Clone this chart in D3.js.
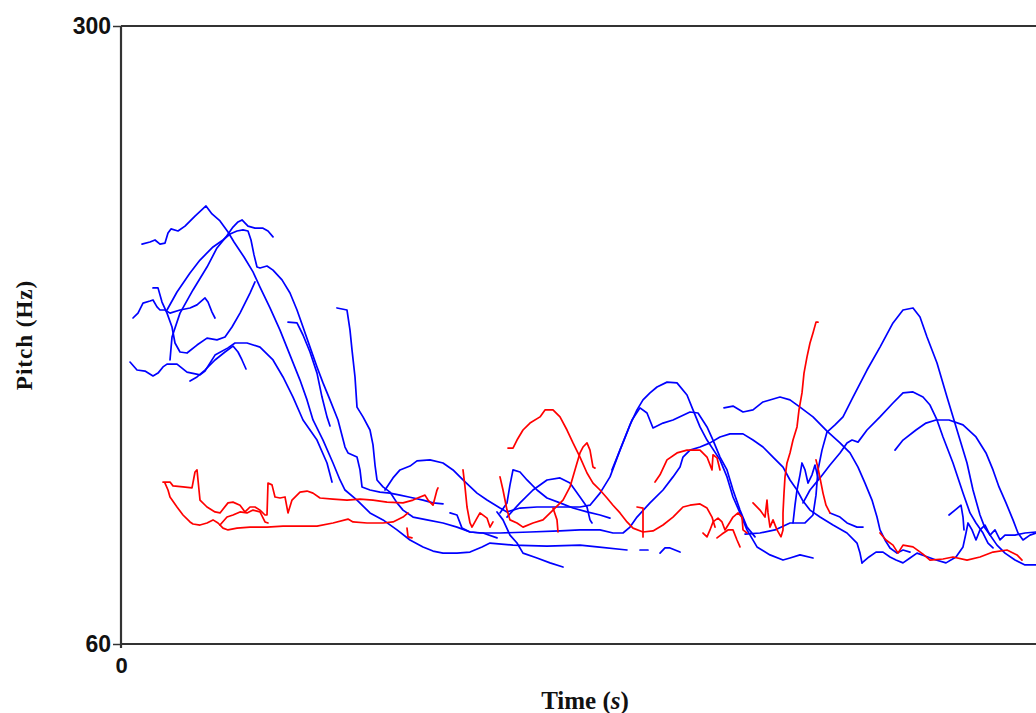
<!DOCTYPE html>
<html><head><meta charset="utf-8">
<script src="https://d3js.org/d3.v7.min.js"></script>
<style>
html,body{margin:0;padding:0;background:#fff;}
svg{display:block;}
</style></head>
<body>
<script>
// ---- axis settings (values) ----
const timeDomain = [0, 1.83];      // seconds
const pitchDomain = [60, 300];     // Hz
const pitchTicks = [60, 300];
const timeTicks = [0];

// ---- blue contours: [time (s), pitch (Hz)] ----
const blue01 = [[.042,215.3],[.058,216.1],[.068,216.9],[.078,215.3],[.088,215.7],[.094,219.6],[.100,221.2],[.114,220.4],[.128,222.3],[.148,226.2],[.170,230.1],[.182,227.0],[.198,224.3],[.214,220.0],[.226,216.1],[.246,210.3],[.264,204.5],[.278,198.6],[.298,190.5],[.318,181.9],[.338,172.2],[.358,162.5],[.372,154.8],[.384,147.0],[.404,139.2],[.424,130.3],[.438,123.7],[.448,119.8],[.472,115.9],[.498,110.9],[.524,108.2],[.552,104.3],[.578,100.4],[.604,97.7],[.624,96.1],[.644,95.3],[.672,95.3],[.698,95.7],[.722,97.7],[.738,99.2],[.784,98.4],[.852,98.0],[.918,98.4],[.952,97.7],[1.012,96.5]];
const blue02 = [[.098,170.3],[.102,179.2],[.118,188.5],[.144,197.5],[.172,206.4],[.192,213.8],[.210,218.1],[.224,221.9],[.234,223.9],[.242,224.7],[.254,222.3],[.268,221.5],[.284,221.5],[.294,220.4],[.304,218.1]];
const blue03 = [[.092,189.7],[.112,196.7],[.138,204.1],[.158,209.1],[.184,214.2],[.204,216.9],[.218,219.2],[.232,220.4],[.244,220.8],[.254,220.4],[.260,216.9],[.266,211.1],[.272,206.4],[.278,206.0],[.292,206.8],[.304,205.2],[.322,201.4],[.338,196.3],[.352,189.7],[.364,183.1],[.378,175.3],[.392,167.6],[.404,161.4],[.418,154.8],[.434,147.0],[.448,136.5],[.454,134.2],[.472,132.6],[.478,127.6],[.482,121.0],[.498,119.8],[.518,119.0],[.538,118.6],[.558,117.8],[.578,117.0],[.604,115.9],[.624,114.8],[.644,114.4]];
const blue04 = [[.024,186.6],[.034,188.5],[.044,192.4],[.058,193.2],[.064,193.6],[.072,190.9],[.078,189.7],[.088,189.7],[.098,188.5],[.118,189.7],[.138,190.5],[.152,191.7],[.168,194.4],[.174,192.8],[.182,188.9],[.188,186.6]];
const blue05 = [[.064,198.3],[.074,198.3],[.082,192.8],[.092,188.5],[.102,183.1],[.108,176.9],[.118,173.4],[.132,173.0],[.152,176.1],[.172,178.8],[.192,178.1],[.208,179.2],[.222,183.1],[.238,188.5],[.258,196.3],[.268,200.6]];
const blue06 = [[.018,169.5],[.032,166.4],[.048,166.0],[.064,164.1],[.074,165.2],[.084,167.6],[.092,168.7],[.112,168.7],[.132,165.6],[.158,164.5],[.168,166.0],[.188,172.2],[.214,175.0],[.228,176.9],[.252,176.9],[.278,175.3],[.304,170.3],[.324,163.7],[.344,155.9],[.364,147.0],[.392,139.2],[.412,130.3],[.422,122.9]];
const blue07 = [[.138,162.1],[.152,163.7],[.168,166.4],[.188,170.3],[.208,173.4],[.224,175.7],[.234,173.4],[.242,170.3],[.250,166.8]];
const blue08 = [[.334,185.0],[.352,184.7],[.364,180.0],[.378,173.4],[.392,165.2],[.402,155.9],[.412,148.2],[.418,144.7]];
const blue09 = [[.432,190.5],[.452,189.7],[.458,181.9],[.462,174.2],[.468,163.7],[.472,152.0],[.484,148.2],[.498,143.1],[.504,137.3],[.508,129.5],[.512,123.7],[.524,121.0],[.538,119.0],[.552,114.8],[.564,112.0],[.584,109.3],[.612,108.2],[.644,107.0],[.672,105.4],[.698,103.5],[.724,103.1],[.752,101.2]];
const blue10 = [[.658,110.9],[.672,110.1],[.682,105.0],[.698,103.5],[.718,103.1],[.758,103.1],[.818,103.5],[.878,103.9],[.918,104.3],[.958,104.3],[.984,103.1],[1.004,103.1],[1.018,105.4],[1.032,109.3],[1.058,114.8],[1.084,119.8],[1.104,124.9],[1.118,128.7],[1.124,132.6],[1.138,135.3],[1.158,136.5],[1.178,138.1],[1.198,140.4],[1.218,141.6],[1.244,141.6],[1.264,139.2],[1.284,136.5],[1.304,132.6],[1.324,128.7],[1.338,123.7],[1.352,119.8],[1.364,115.5],[1.378,112.0],[1.398,109.3],[1.424,106.2],[1.452,103.1],[1.472,99.2],[1.478,95.3],[1.482,91.5]];
const blue11a = [[1.038,96.5],[1.054,96.5]];
const blue11b = [[1.078,95.3],[1.088,97.3],[1.098,97.3],[1.118,95.7]];
const blue12 = [[.528,119.8],[.544,124.5],[.558,127.6],[.578,129.1],[.592,131.1],[.618,131.5],[.644,130.3],[.664,127.6],[.684,123.7],[.712,118.6],[.732,115.9],[.758,112.8],[.772,111.3],[.798,112.8],[.832,113.2],[.878,113.2],[.918,113.2],[.938,113.9],[.958,118.6],[.978,124.9],[.998,135.3],[1.018,145.1],[1.032,150.9],[1.044,154.8],[1.058,157.5],[1.072,159.8],[1.092,161.7],[1.112,161.4],[1.132,156.7],[1.144,150.9],[1.158,144.3],[1.172,139.2],[1.198,131.5],[1.212,124.9],[1.224,117.1],[1.238,110.9],[1.252,104.3],[1.272,97.7],[1.298,94.6],[1.324,92.6],[1.338,93.4],[1.358,94.6],[1.384,93.4]];
const blue13 = [[.758,110.9],[.772,114.8],[.778,121.8],[.784,127.6],[.798,126.8],[.812,123.7],[.832,119.8],[.852,116.7],[.878,114.8],[.904,112.8],[.932,111.3],[.958,110.1],[.978,108.9]];
const blue14 = [[.772,109.3],[.798,114.8],[.824,119.8],[.852,123.7],[.878,124.5],[.898,122.5],[.918,117.1],[.932,113.2],[.938,108.2],[.942,107.0]];
const blue15 = [[.982,127.6],[1.002,137.3],[1.022,147.0],[1.038,151.7],[1.052,149.7],[1.064,143.9],[1.084,145.8],[1.104,147.0],[1.138,150.1],[1.154,149.7],[1.172,144.3],[1.184,139.2],[1.198,132.6],[1.212,127.6],[1.224,119.8],[1.238,112.0],[1.252,105.4],[1.268,101.6]];
const blue16 = [[1.206,151.7],[1.224,152.4],[1.244,150.1],[1.264,150.9],[1.284,154.0],[1.318,155.9],[1.338,154.8],[1.358,152.0],[1.384,148.2],[1.412,142.7],[1.438,138.1],[1.458,134.2],[1.474,128.7],[1.488,122.5],[1.502,115.9],[1.512,109.3],[1.518,104.3],[1.528,100.4],[1.538,97.3],[1.552,95.3],[1.564,96.5],[1.578,95.7]];
const blue17 = [[1.248,102.7],[1.278,103.1],[1.308,104.3],[1.338,107.0],[1.368,107.0],[1.384,110.1],[1.390,117.8],[1.394,127.6],[1.402,135.3],[1.412,142.3],[1.428,145.1],[1.444,148.2],[1.464,155.9],[1.492,166.4],[1.518,175.3],[1.544,184.7],[1.564,189.7],[1.584,190.5],[1.598,187.0],[1.612,179.2],[1.632,169.1],[1.652,155.9],[1.672,143.1],[1.692,130.3],[1.704,119.8],[1.718,110.1],[1.728,105.0],[1.738,102.3],[1.752,98.4],[1.768,95.3],[1.788,92.6],[1.808,90.7],[1.830,90.7]];
const blue18 = [[1.364,114.8],[1.378,119.8],[1.398,124.5],[1.418,129.5],[1.438,134.2],[1.452,138.1],[1.462,139.2],[1.474,138.4],[1.492,143.1],[1.518,148.2],[1.544,153.6],[1.564,157.5],[1.584,157.9],[1.604,155.9],[1.618,152.8],[1.632,147.0],[1.644,140.4],[1.664,130.3],[1.684,118.6],[1.698,110.9],[1.710,107.0],[1.724,103.1],[1.734,99.2],[1.744,97.3]];
const blue20 = [[1.344,107.0],[1.348,113.9],[1.352,119.8],[1.358,125.7],[1.362,130.3],[1.368,127.6],[1.374,122.5],[1.382,125.7],[1.388,129.5],[1.394,124.5]];
const blue22 = [[1.418,110.9],[1.438,109.3],[1.452,107.0],[1.472,105.4],[1.484,105.4]];
const blue23 = [[1.482,91.5],[1.496,93.8],[1.510,95.7],[1.524,95.7],[1.538,93.8],[1.550,92.6],[1.564,91.5],[1.578,93.4],[1.592,95.3],[1.608,94.2],[1.630,92.6],[1.650,91.5],[1.670,93.8],[1.684,97.7],[1.690,103.1],[1.694,107.0],[1.702,104.3],[1.710,100.4],[1.718,104.3],[1.728,106.2],[1.738,102.3],[1.748,104.3],[1.758,100.4],[1.768,102.3],[1.788,102.3],[1.808,103.1],[1.830,103.5]];
const blue24 = [[1.656,110.1],[1.668,112.0],[1.680,113.9],[1.684,109.3],[1.686,104.3]];
const blue25 = [[1.548,135.3],[1.564,139.2],[1.590,143.1],[1.610,145.8],[1.630,147.0],[1.656,147.0],[1.684,145.1],[1.710,140.4],[1.730,134.2],[1.744,127.6],[1.756,121.0],[1.770,114.8],[1.784,108.2],[1.794,103.1],[1.804,100.4],[1.818,102.3],[1.830,103.1]];
const blue26 = [[.752,111.3],[.764,108.2],[.778,102.3],[.792,99.2],[.804,95.3],[.832,93.4],[.858,91.5],[.884,89.9]];

// ---- red contours: [time (s), pitch (Hz)] ----
const red01 = [[.084,122.9],[.098,122.9],[.104,121.4],[.124,121.0],[.142,120.6],[.148,126.8],[.152,127.6],[.156,119.8],[.158,115.9],[.172,113.2],[.188,111.3],[.198,110.9],[.214,114.8],[.224,115.1],[.238,113.9],[.248,111.3],[.258,113.2],[.268,113.2],[.278,112.0],[.288,110.1],[.292,110.1],[.294,122.5],[.302,121.8],[.308,117.1],[.318,116.7],[.328,117.1],[.334,110.9],[.342,115.9],[.358,119.0],[.372,119.4],[.384,118.6],[.398,116.7],[.424,116.3],[.452,115.9],[.478,116.3],[.504,115.9],[.532,115.1],[.564,114.8],[.584,115.9],[.598,117.1],[.608,117.8],[.614,115.9],[.624,113.9],[.632,119.8],[.634,120.6]];
const red02 = [[.088,122.5],[.094,119.8],[.098,117.1],[.112,113.2],[.124,110.1],[.138,107.4],[.144,106.6],[.158,106.2],[.172,107.0],[.184,108.2],[.194,107.0],[.204,105.0],[.214,104.3],[.232,105.0],[.258,105.4],[.292,105.4],[.324,105.8],[.358,105.8],[.392,105.8],[.424,107.0],[.454,108.5],[.464,107.4],[.492,107.0],[.524,107.0],[.544,107.4],[.564,109.3],[.574,110.9]];
const red02b = [[.572,105.0],[.574,101.6],[.582,101.2]];
const red03 = [[.198,106.2],[.212,109.3],[.224,110.1],[.238,111.3],[.252,110.9],[.264,112.0],[.278,111.3],[.288,107.4],[.294,107.0]];
const red04 = [[.774,136.1],[.784,136.1],[.792,139.2],[.804,143.1],[.818,145.8],[.838,148.2],[.848,150.9],[.864,150.9],[.878,148.2],[.892,143.1],[.904,138.1],[.918,132.6],[.932,126.4],[.944,122.5],[.958,119.8],[.972,116.7],[.984,113.9],[.998,110.9],[1.012,107.4],[1.024,105.0],[1.044,103.5],[1.064,103.9],[1.084,106.2],[1.104,109.3],[1.124,113.2],[1.138,113.9],[1.158,114.4],[1.172,112.8],[1.182,109.3],[1.188,105.4]];
const red05a = [[.684,127.6],[.688,121.0],[.692,113.2],[.698,107.0],[.702,105.4],[.712,108.9],[.718,110.9],[.732,108.9],[.738,105.4],[.744,107.4]];
const red05b = [[.758,124.9],[.764,119.8],[.772,112.0],[.778,108.2],[.792,107.0],[.804,105.4],[.824,107.0],[.844,108.2],[.864,112.0],[.884,115.9],[.898,121.0],[.912,130.3],[.918,134.2],[.924,136.5],[.932,138.1],[.938,135.3],[.944,128.7],[.948,128.3]];
const red05c = [[.864,112.8],[.872,108.2],[.874,103.5]];
const red05d = [[1.032,113.2],[1.044,112.8],[1.044,101.6]];
const red06a = [[1.164,103.1],[1.172,101.6],[1.178,104.3],[1.184,107.4],[1.194,108.9],[1.202,107.4],[1.208,104.3],[1.218,107.4],[1.224,109.3],[1.234,110.9],[1.242,109.3],[1.244,104.3],[1.252,103.1]];
const red06b = [[1.192,101.2],[1.202,102.7],[1.214,104.3],[1.224,104.3],[1.232,100.4],[1.238,97.7]];
const red07 = [[1.264,114.8],[1.278,112.0],[1.288,109.3],[1.292,115.9],[1.294,110.9],[1.298,105.4],[1.304,108.2],[1.312,104.3],[1.320,101.6],[1.324,104.3],[1.324,110.9],[1.326,118.6],[1.328,124.9],[1.332,130.3],[1.338,134.2],[1.344,139.2],[1.352,144.3],[1.356,150.9],[1.362,157.5],[1.366,165.2],[1.372,171.5],[1.378,176.9],[1.384,180.8],[1.390,185.0],[1.394,185.0]];
const red08 = [[1.390,131.5],[1.394,128.3],[1.398,124.5],[1.404,118.6],[1.410,113.9],[1.418,110.9]];
const red09 = [[1.518,103.1],[1.530,100.4],[1.544,98.4],[1.554,95.3],[1.564,98.4],[1.584,97.7],[1.604,94.9],[1.618,92.6],[1.644,93.0],[1.664,93.8],[1.692,92.6],[1.718,93.8],[1.744,95.7],[1.772,96.5],[1.792,94.6],[1.802,92.6]];
const red10 = [[1.068,122.9],[1.078,125.7],[1.092,131.5],[1.112,134.2],[1.132,135.3],[1.158,135.3],[1.172,132.6],[1.182,127.6],[1.184,133.5],[1.192,132.3],[1.198,127.6]];

const blueContours = [blue01,blue02,blue03,blue04,blue05,blue06,blue07,blue08,blue09,blue10,blue11a,blue11b,blue12,blue13,blue14,blue15,blue16,blue17,blue18,blue20,blue22,blue23,blue24,blue25,blue26];
const redContours = [red01,red02,red02b,red03,red04,red05a,red05b,red05c,red05d,red06a,red06b,red07,red08,red09,red10];

// ---- drawing ----
const W = 1036, H = 713;
const svg = d3.select("body").append("svg").attr("width", W).attr("height", H);
svg.append("rect").attr("width", W).attr("height", H).attr("fill", "#fff");

const x = d3.scaleLinear().domain(timeDomain).range([121, 1036]);
const y = d3.scaleLinear().domain(pitchDomain).range([644, 26]);

const line = d3.line().x(d => x(d[0])).y(d => y(d[1]));

const gLines = svg.append("g").attr("fill", "none").attr("stroke-width", 1.7)
  .attr("stroke-linejoin", "round").attr("stroke-linecap", "round");

gLines.selectAll("path.blue").data(blueContours).join("path")
  .attr("class", "blue").attr("stroke", "#0000ff").attr("d", line);
gLines.selectAll("path.red").data(redContours).join("path")
  .attr("class", "red").attr("stroke", "#ff0000").attr("d", line);

// top border
svg.append("line").attr("x1", x(timeDomain[0])).attr("x2", x(timeDomain[1]))
  .attr("y1", y(pitchDomain[1])).attr("y2", y(pitchDomain[1]))
  .attr("stroke", "#333").attr("stroke-width", 2);

// y axis
const yAxis = svg.append("g").attr("transform", `translate(${x(0)},0)`)
  .call(d3.axisLeft(y).tickValues(pitchTicks).tickSize(8).tickPadding(2).tickFormat(d3.format("d")));
yAxis.select(".domain").attr("stroke", "#333").attr("stroke-width", 2.2).attr("d", `M0,${y(pitchDomain[0])+4}V${y(pitchDomain[1])}`);
yAxis.selectAll(".tick line").attr("stroke", "#333").attr("stroke-width", 1.5);
yAxis.selectAll(".tick text").attr("font-family", "'Liberation Sans', Arial, sans-serif")
  .attr("font-weight", "bold").attr("font-size", 23).attr("fill", "#111");

// x axis
const xAxis = svg.append("g").attr("transform", `translate(0,${y(pitchDomain[0])})`)
  .call(d3.axisBottom(x).tickValues(timeTicks).tickSize(0).tickPadding(13).tickFormat(d3.format("d")));
xAxis.select(".domain").attr("stroke", "#333").attr("stroke-width", 2.2).attr("d", `M${x(timeDomain[0])},0H${x(timeDomain[1])}`);
xAxis.selectAll(".tick text").attr("font-family", "'Liberation Sans', Arial, sans-serif")
  .attr("font-weight", "bold").attr("font-size", 22).attr("fill", "#111");

// axis titles
const xt = svg.append("text").attr("x", 585).attr("y", 709).attr("text-anchor", "middle")
  .attr("font-family", "'Liberation Serif', 'Times New Roman', serif").attr("font-weight", "bold")
  .attr("font-size", 25).attr("fill", "#111");
xt.append("tspan").text("Time (");
xt.append("tspan").attr("font-style", "italic").text("s");
xt.append("tspan").text(")");

svg.append("text").attr("transform", "translate(32,335) rotate(-90)").attr("text-anchor", "middle")
  .attr("font-family", "'Liberation Serif', 'Times New Roman', serif").attr("font-weight", "bold")
  .attr("font-size", 23).attr("letter-spacing", 1).attr("fill", "#111").text("Pitch (Hz)");
</script>
</body></html>
